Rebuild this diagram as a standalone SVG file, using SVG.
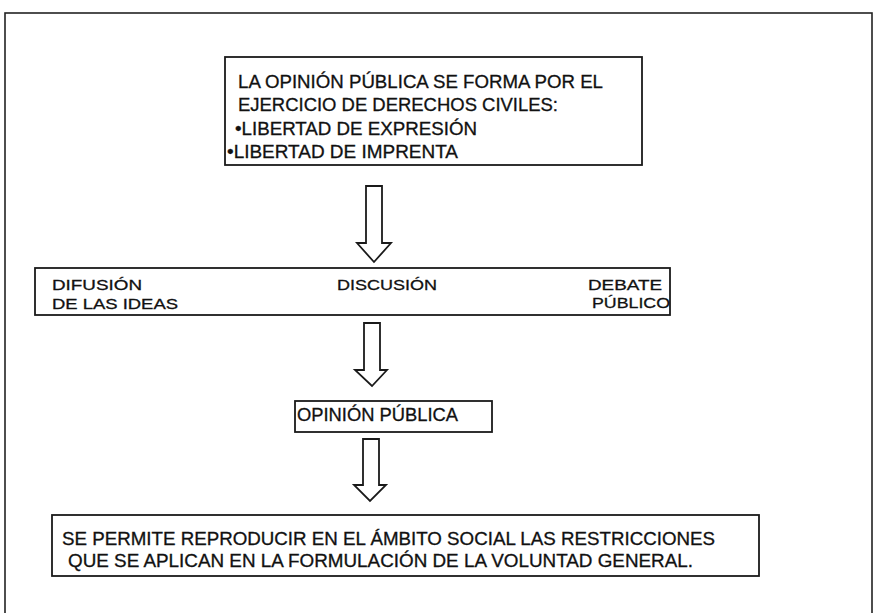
<svg xmlns="http://www.w3.org/2000/svg" width="874" height="613" viewBox="0 0 874 613">
<style>
.box{fill:#fff;stroke:#1a1a1a;stroke-width:1.8}
.t{font-family:"Liberation Sans",Arial,sans-serif;font-size:18px;fill:#111;stroke:#111;stroke-width:0.3}
.s{font-size:15.5px}
.arr{fill:#fff;stroke:#1a1a1a;stroke-width:1.8;stroke-linejoin:miter}
</style>
<rect width="874" height="613" fill="#fff"/>
<rect x="5" y="13" width="867" height="620" fill="none" stroke="#222" stroke-width="1.6"/>
<g id="node-derechos">
<rect class="box" x="225" y="57" width="417" height="108"/>
<text class="t" x="238" y="88" textLength="365" lengthAdjust="spacingAndGlyphs">LA OPINIÓN PÚBLICA SE FORMA POR EL</text>
<text class="t" x="238" y="111" textLength="320" lengthAdjust="spacingAndGlyphs">EJERCICIO DE DERECHOS CIVILES:</text>
<text class="t" x="235" y="135" textLength="242" lengthAdjust="spacingAndGlyphs">•LIBERTAD DE EXPRESIÓN</text>
<text class="t" x="227" y="158" textLength="231" lengthAdjust="spacingAndGlyphs">•LIBERTAD DE IMPRENTA</text>
</g>
<g id="node-difusion">
<rect class="box" x="35" y="268" width="635" height="47"/>
<text class="t s" x="52" y="290" textLength="90" lengthAdjust="spacingAndGlyphs">DIFUSIÓN</text>
<text class="t s" x="52" y="309" textLength="126" lengthAdjust="spacingAndGlyphs">DE LAS IDEAS</text>
<text class="t s" x="337" y="290" textLength="100" lengthAdjust="spacingAndGlyphs">DISCUSIÓN</text>
<text class="t s" x="588" y="290" textLength="74" lengthAdjust="spacingAndGlyphs">DEBATE</text>
<text class="t s" x="592" y="308" textLength="78" lengthAdjust="spacingAndGlyphs">PÚBLICO</text>
</g>
<g id="node-opinion">
<rect class="box" x="295" y="401" width="197" height="31"/>
<text class="t" x="297" y="421" textLength="161" lengthAdjust="spacingAndGlyphs">OPINIÓN PÚBLICA</text>
</g>
<g id="node-restricciones">
<rect class="box" x="52" y="515" width="707" height="61"/>
<text class="t" x="62" y="545" textLength="653" lengthAdjust="spacingAndGlyphs">SE PERMITE REPRODUCIR EN EL ÁMBITO SOCIAL LAS RESTRICCIONES</text>
<text class="t" x="68" y="567" textLength="625" lengthAdjust="spacingAndGlyphs">QUE SE APLICAN EN LA FORMULACIÓN DE LA VOLUNTAD GENERAL.</text>
</g>
<g id="connectors">
<polygon class="arr" points="366,186 382,186 382,243 391,243 374,262 357,243 366,243"/>
<polygon class="arr" points="364,323 380,323 380,370 387,370 372,386 355,370 364,370"/>
<polygon class="arr" points="363,439 379,439 379,485 386,485 370,501 354,485 363,485"/>
</g>
</svg>
